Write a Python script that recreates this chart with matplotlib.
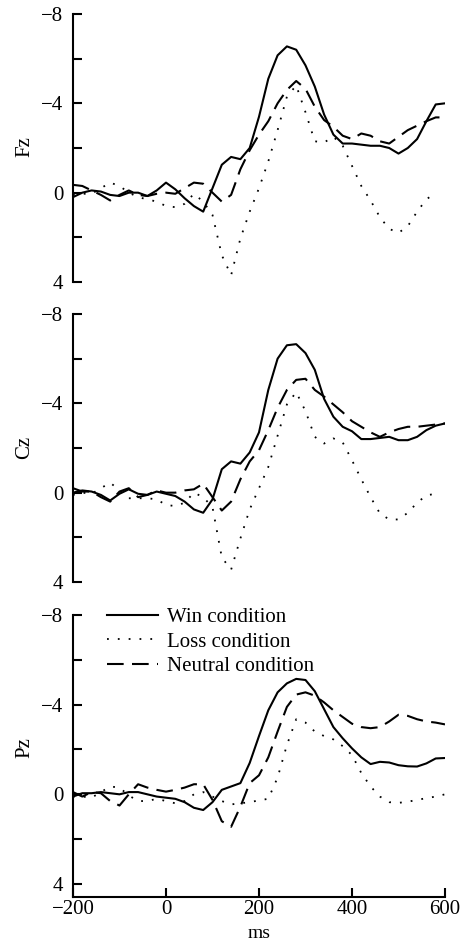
import numpy as np
import matplotlib
matplotlib.use('Agg')
import matplotlib.pyplot as plt

plt.rcParams['font.family'] = ['Liberation Serif', 'DejaVu Serif']
plt.rcParams['font.size'] = 15

nan = np.nan

# time axis (ms), 20 ms steps
t = np.arange(-200, 601, 20)

# Fz
fz_win = [0.2, 0.0, -0.1, -0.05, 0.1, 0.15, 0.0, 0.0, 0.15, -0.1, -0.45,
          -0.15, 0.25, 0.6, 0.85, -0.2, -1.25, -1.6, -1.5, -2.0, -3.4,
          -5.1, -6.15, -6.55, -6.4, -5.7, -4.75, -3.5, -2.6, -2.2, -2.2,
          -2.15, -2.1, -2.1, -2.0, -1.75, -2.0, -2.4, -3.2, -3.95, -4.0]
fz_loss = [0.1, 0.05, 0.05, -0.2, -0.45, -0.3, 0.0, 0.2, 0.3, 0.4, 0.6,
           0.65, 0.5, 0.05, 0.4, 1.0, 2.8, 3.7, 2.05, 0.85, -0.2,
           -1.4, -2.8, -4.3, -4.8, -3.6, -2.3, -2.25, -2.5, -2.1, -1.2,
           -0.3, 0.35, 1.1, 1.62, 1.8, 1.5, 0.85, 0.3, 0.0, nan]
fz_neutral = [-0.35, -0.3, -0.1, 0.1, 0.35, 0.1, -0.1, 0.1, 0.15, 0.05, 0.0,
              0.05, -0.2, -0.45, -0.4, 0.0, 0.4, 0.1, -1.05, -1.9, -2.6,
              -3.2, -4.0, -4.6, -5.0, -4.65, -3.85, -3.25, -2.95, -2.55, -2.4,
              -2.65, -2.55, -2.3, -2.2, -2.5, -2.8, -3.0, -3.2, -3.37, -3.37]

# Cz
cz_win = [0.0, -0.1, -0.05, 0.1, 0.35, 0.05, -0.15, 0.05, 0.1, -0.05, 0.05,
          0.15, 0.4, 0.75, 0.9, 0.3, -1.05, -1.4, -1.3, -1.8, -2.7,
          -4.6, -6.0, -6.6, -6.65, -6.25, -5.5, -4.2, -3.4, -2.95, -2.75,
          -2.4, -2.4, -2.45, -2.5, -2.35, -2.35, -2.5, -2.8, -3.0, -3.1]
cz_loss = [0.1, 0.0, 0.05, -0.2, -0.45, -0.1, 0.25, 0.25, 0.25, 0.3, 0.55,
           0.6, 0.45, 0.0, 0.2, 0.65, 2.9, 3.45, 2.05, 0.75, -0.2,
           -1.15, -2.55, -3.95, -4.5, -3.65, -2.5, -2.2, -2.43, -2.25, -1.45,
           -0.6, 0.2, 0.93, 1.2, 1.2, 0.9, 0.45, 0.12, 0.05, nan]
cz_neutral = [-0.2, -0.05, -0.05, 0.2, 0.4, -0.05, -0.2, 0.2, 0.1, -0.1, 0.0,
              0.0, -0.1, -0.15, -0.4, 0.2, 0.8, 0.4, -0.6, -1.4, -1.9,
              -2.8, -3.8, -4.6, -5.05, -5.1, -4.6, -4.3, -3.95, -3.6, -3.2,
              -2.95, -2.7, -2.5, -2.7, -2.85, -2.95, -2.95, -3.0, -3.05, -3.1]

# Pz
pz_win = [0.1, -0.05, -0.05, -0.1, -0.05, 0.0, -0.1, -0.1, 0.0, 0.1, 0.15,
          0.2, 0.35, 0.6, 0.7, 0.35, -0.2, -0.35, -0.5, -1.4, -2.6,
          -3.75, -4.55, -4.95, -5.15, -5.1, -4.6, -3.8, -3.0, -2.5, -2.05,
          -1.65, -1.35, -1.45, -1.42, -1.3, -1.25, -1.24, -1.38, -1.6, -1.62]
pz_loss = [0.1, 0.1, 0.15, -0.1, -0.35, -0.3, 0.05, 0.3, 0.3, 0.2, 0.3,
           0.4, 0.3, 0.0, -0.1, 0.1, 0.3, 0.45, 0.4, 0.35, 0.27,
           0.2, -0.75, -2.2, -3.35, -3.2, -2.8, -2.6, -2.45, -2.15, -1.75,
           -0.95, -0.35, 0.1, 0.35, 0.38, 0.33, 0.25, 0.17, 0.1, 0.0]
pz_neutral = [-0.1, 0.1, -0.1, -0.05, 0.3, 0.5, 0.0, -0.45, -0.3, -0.2, -0.12,
              -0.2, -0.3, -0.45, -0.45, 0.25, 1.2, 1.45, 0.55, -0.5, -0.85,
              -1.65, -2.8, -3.9, -4.45, -4.55, -4.4, -4.1, -3.75, -3.45, -3.15,
              -3.0, -2.95, -3.0, -3.25, -3.55, -3.5, -3.35, -3.25, -3.2, -3.12]

channels = ['Fz', 'Cz', 'Pz']
win = [fz_win, cz_win, pz_win]
loss = [fz_loss, cz_loss, pz_loss]
neutral = [fz_neutral, cz_neutral, pz_neutral]

yticks = [-8, -6, -4, -2, 0, 2, 4]
yticklabels = ['\u22128', '', '\u22124', '', '0', '', '4']
xticks = [-200, 0, 200, 400, 600]
xticklabels = ['\u2212200', '0', '200', '400', '600']

W, H = 471, 942
fig = plt.figure(figsize=(W / 100, H / 100), dpi=100)

# panel boxes in pixels: (top, bottom)
boxes = [(14, 282), (314, 582), (615, 897)]
left_px, right_px = 73, 445

for i, (top, bot) in enumerate(boxes):
    ax = fig.add_axes([left_px / W, 1 - bot / H, (right_px - left_px) / W, (bot - top) / H])
    ax.plot(t, win[i], color='black', lw=1.5, label='Win condition')
    ax.plot(t, loss[i], color='black', lw=1.3, ls=(0, (1, 5)), label='Loss condition')
    ax.plot(t, neutral[i], color='black', lw=1.5, ls=(0, (8, 4)), label='Neutral condition')

    ax.set_xlim(-200, 600)
    if i < 2:
        ax.set_ylim(4, -8)
    else:
        ax.set_ylim(4 + (897 - 884) / 22.4, -8)

    for s in ['top', 'right']:
        ax.spines[s].set_visible(False)
    ax.spines['left'].set_linewidth(1.5)
    ax.spines['bottom'].set_linewidth(1.5)

    ax.set_yticks(yticks, yticklabels)
    ax.tick_params(axis='y', direction='in', length=6.3, width=1.5, pad=7)

    if i < 2:
        ax.spines['bottom'].set_visible(False)
        ax.set_xticks([])
    else:
        ax.set_xticks(xticks, xticklabels)
        ax.tick_params(axis='x', direction='in', length=6.3, width=1.5, pad=2.5)
        ax.legend(loc='upper left', bbox_to_anchor=((107 - 73) / 372, 1.027),
                  frameon=False, borderpad=0, borderaxespad=0,
                  handlelength=2.45, handletextpad=0.45, labelspacing=0.24)

    fig.text(25 / W, 1 - (top + 133) / H, channels[i], rotation=90,
             ha='center', va='center')

fig.text(259 / W, 0.5 / H, 'ms', ha='center', va='bottom', fontsize=14)

fig.savefig('out.png', dpi=100)
